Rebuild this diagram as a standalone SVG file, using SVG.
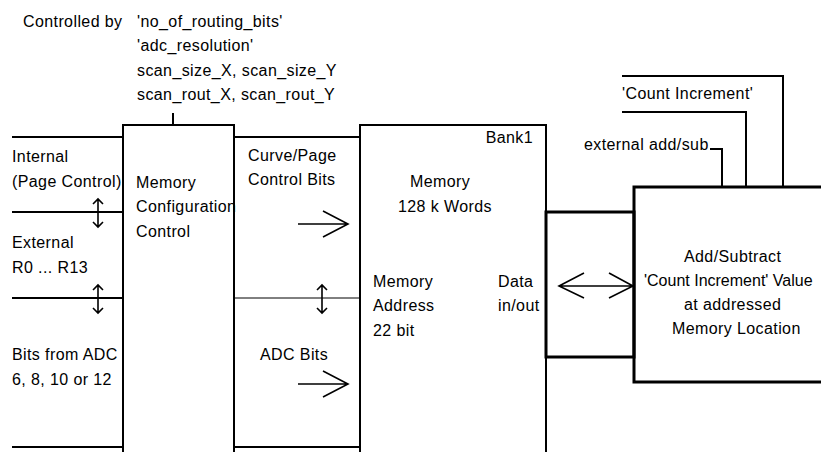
<svg xmlns="http://www.w3.org/2000/svg" width="821" height="452" viewBox="0 0 821 452">
<style>
text{font-family:"Liberation Sans",Arial,sans-serif;font-size:16px;letter-spacing:0.4px;fill:#000}
.ln{stroke:#000;stroke-width:2;fill:none}
.thin{stroke:#000;stroke-width:1;fill:none}
.thick{stroke:#000;stroke-width:3;fill:none}
.arr{stroke:#000;stroke-width:1.6;fill:none}
</style>
<rect width="821" height="452" fill="#fff"/>
<g id="control-label">
<text x="23" y="27">Controlled by</text>
<text x="137" y="27">'no_of_routing_bits'</text>
<text x="137" y="51">'adc_resolution'</text>
<text x="137" y="76">scan_size_X, scan_size_Y</text>
<text x="137" y="100">scan_rout_X, scan_rout_Y</text>
</g>
<g id="inputs">
<text x="12" y="162">Internal</text>
<text x="12" y="187">(Page Control)</text>
<text x="12" y="248">External</text>
<text x="12" y="273">R0 ... R13</text>
<text x="12" y="360">Bits from ADC</text>
<text x="12" y="385">6, 8, 10 or 12</text>
</g>
<g id="mem-config">
<path class="ln" d="M123,452 V125 H234 V452"/>
<text x="136" y="188">Memory</text>
<text x="136" y="212">Configuration</text>
<text x="136" y="237">Control</text>
</g>
<g id="memory">
<path class="ln" d="M360,452 V125 H546 V452"/>
<text x="533" y="143" text-anchor="end">Bank1</text>
<text x="410" y="187">Memory</text>
<text x="398" y="212">128 k Words</text>
<text x="373" y="287">Memory</text>
<text x="373" y="311">Address</text>
<text x="373" y="336">22 bit</text>
<text x="498" y="287">Data</text>
<text x="498" y="311">in/out</text>
</g>
<g id="data-bus">
<rect class="thick" x="546" y="212" width="88" height="145"/>
</g>
<g id="add-sub">
<path class="thick" d="M823,187 H634 V382 H823"/>
<text x="684" y="262">Add/Subtract</text>
<text x="644" y="286" style="letter-spacing:0">'Count Increment' Value</text>
<text x="684" y="310">at addressed</text>
<text x="672" y="334">Memory Location</text>
</g>
<g id="labels-right">
<text x="622" y="99">'Count Increment'</text>
<text x="584" y="150">external add/sub</text>
<text x="248" y="161">Curve/Page</text>
<text x="248" y="185">Control Bits</text>
<text x="260" y="360">ADC Bits</text>
</g>
<g id="connectors">
<path class="ln" d="M173,113 V125"/>
<path class="ln" d="M12,137 H123 M12,212 H123 M12,298 H123 M12,447 H123"/>
<path class="ln" d="M234,137 H360 M234,447 H360"/>
<path class="thin" d="M234,298 H360"/>
<path class="ln" d="M622,76 H783 V187 M622,112 H746 V187 M710,149 H722 V187"/>
<path class="arr" d="M98,199 V227 M93,204 L98,199 L103,204 M93,222 L98,227 L103,222"/>
<path class="arr" d="M98,285 V313 M93,290 L98,285 L103,290 M93,308 L98,313 L103,308"/>
<path class="arr" d="M322,285 V313 M317,290 L322,285 L327,290 M317,308 L322,313 L327,308"/>
<path class="arr" d="M298,224 H348 M323,211 L348,224 L323,237"/>
<path class="arr" d="M298,384 H348 M323,371 L348,384 L323,397"/>
<path class="arr" d="M559,286 H633 M584,273 L559,286 L584,298 M609,273 L633,286 L609,298"/>
</g>
</svg>
